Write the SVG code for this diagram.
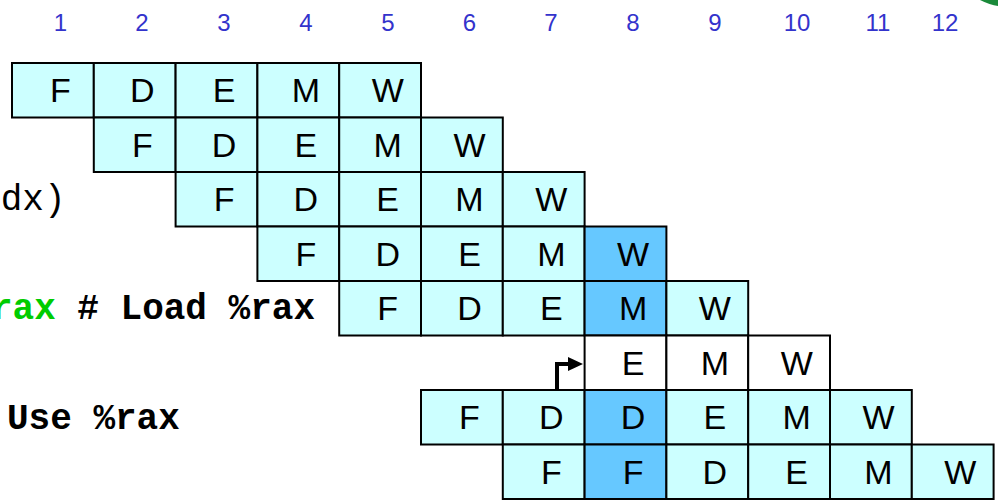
<svg xmlns="http://www.w3.org/2000/svg" width="998" height="504" viewBox="0 0 998 504">
<style>
.c{fill:#ccffff;stroke:#000;stroke-width:2}
.d{fill:#66c8ff;stroke:#000;stroke-width:2}
.w{fill:#ffffff;stroke:#000;stroke-width:2}
.t{font-family:"Liberation Sans",Arial,sans-serif;font-size:34px;fill:#000;text-anchor:middle}
.n{font-family:"Liberation Sans",Arial,sans-serif;font-size:24px;fill:#3333cc;text-anchor:middle}
.code{font-family:"Liberation Mono","Courier New",monospace;font-size:36px;fill:#000}
</style>
<path d="M980,0 Q990,5 998,6 L998,0 Z" fill="#1a8a3a"/>
<g id="cycles">
<text class="n" x="60.5" y="31">1</text>
<text class="n" x="142" y="31">2</text>
<text class="n" x="224" y="31">3</text>
<text class="n" x="306" y="31">4</text>
<text class="n" x="388" y="31">5</text>
<text class="n" x="469.5" y="31">6</text>
<text class="n" x="551" y="31">7</text>
<text class="n" x="633" y="31">8</text>
<text class="n" x="715" y="31">9</text>
<text class="n" x="797" y="31">10</text>
<text class="n" x="878" y="31">11</text>
<text class="n" x="945" y="31">12</text>
</g>
<g id="code">
<text class="code" x="65.5" y="210" text-anchor="end" font-size="32">rdx)</text>
<text class="code" x="315" y="319" text-anchor="end" font-weight="bold"><tspan fill="#00cc00">rax</tspan> # Load %rax</text>
<text class="code" x="7" y="429" font-weight="bold">Use %rax</text>
</g>
<g id="row1">
<rect class="c" x="12" y="63" width="81.8" height="54.5"/>
<rect class="c" x="93.8" y="63" width="81.8" height="54.5"/>
<rect class="c" x="175.6" y="63" width="81.8" height="54.5"/>
<rect class="c" x="257.4" y="63" width="81.8" height="54.5"/>
<rect class="c" x="339.2" y="63" width="81.8" height="54.5"/>
<text class="t" x="60.5" y="102">F</text>
<text class="t" x="142.3" y="102">D</text>
<text class="t" x="224.1" y="102">E</text>
<text class="t" x="305.9" y="102">M</text>
<text class="t" x="387.7" y="102">W</text>
</g>
<g id="row2">
<rect class="c" x="93.8" y="117.5" width="81.8" height="54.5"/>
<rect class="c" x="175.6" y="117.5" width="81.8" height="54.5"/>
<rect class="c" x="257.4" y="117.5" width="81.8" height="54.5"/>
<rect class="c" x="339.2" y="117.5" width="81.8" height="54.5"/>
<rect class="c" x="421" y="117.5" width="81.8" height="54.5"/>
<text class="t" x="142.3" y="156.5">F</text>
<text class="t" x="224.1" y="156.5">D</text>
<text class="t" x="305.9" y="156.5">E</text>
<text class="t" x="387.7" y="156.5">M</text>
<text class="t" x="469.5" y="156.5">W</text>
</g>
<g id="row3">
<rect class="c" x="175.6" y="172" width="81.8" height="54.5"/>
<rect class="c" x="257.4" y="172" width="81.8" height="54.5"/>
<rect class="c" x="339.2" y="172" width="81.8" height="54.5"/>
<rect class="c" x="421" y="172" width="81.8" height="54.5"/>
<rect class="c" x="502.8" y="172" width="81.8" height="54.5"/>
<text class="t" x="224.1" y="211">F</text>
<text class="t" x="305.9" y="211">D</text>
<text class="t" x="387.7" y="211">E</text>
<text class="t" x="469.5" y="211">M</text>
<text class="t" x="551.3" y="211">W</text>
</g>
<g id="row4">
<rect class="c" x="257.4" y="226.5" width="81.8" height="54.5"/>
<rect class="c" x="339.2" y="226.5" width="81.8" height="54.5"/>
<rect class="c" x="421" y="226.5" width="81.8" height="54.5"/>
<rect class="c" x="502.8" y="226.5" width="81.8" height="54.5"/>
<rect class="d" x="584.6" y="226.5" width="81.8" height="54.5"/>
<text class="t" x="305.9" y="265.5">F</text>
<text class="t" x="387.7" y="265.5">D</text>
<text class="t" x="469.5" y="265.5">E</text>
<text class="t" x="551.3" y="265.5">M</text>
<text class="t" x="633.1" y="265.5">W</text>
</g>
<g id="row5">
<rect class="c" x="339.2" y="281" width="81.8" height="54.5"/>
<rect class="c" x="421" y="281" width="81.8" height="54.5"/>
<rect class="c" x="502.8" y="281" width="81.8" height="54.5"/>
<rect class="d" x="584.6" y="281" width="81.8" height="54.5"/>
<rect class="c" x="666.4" y="281" width="81.8" height="54.5"/>
<text class="t" x="387.7" y="320">F</text>
<text class="t" x="469.5" y="320">D</text>
<text class="t" x="551.3" y="320">E</text>
<text class="t" x="633.1" y="320">M</text>
<text class="t" x="714.9" y="320">W</text>
</g>
<g id="row6">
<rect class="w" x="584.6" y="335.5" width="81.8" height="54.5"/>
<rect class="w" x="666.4" y="335.5" width="81.8" height="54.5"/>
<rect class="w" x="748.2" y="335.5" width="81.8" height="54.5"/>
<text class="t" x="633.1" y="374.5">E</text>
<text class="t" x="714.9" y="374.5">M</text>
<text class="t" x="796.7" y="374.5">W</text>
</g>
<g id="row7">
<rect class="c" x="421" y="390" width="81.8" height="54.5"/>
<rect class="c" x="502.8" y="390" width="81.8" height="54.5"/>
<rect class="d" x="584.6" y="390" width="81.8" height="54.5"/>
<rect class="c" x="666.4" y="390" width="81.8" height="54.5"/>
<rect class="c" x="748.2" y="390" width="81.8" height="54.5"/>
<rect class="c" x="830" y="390" width="81.8" height="54.5"/>
<text class="t" x="469.5" y="429">F</text>
<text class="t" x="551.3" y="429">D</text>
<text class="t" x="633.1" y="429">D</text>
<text class="t" x="714.9" y="429">E</text>
<text class="t" x="796.7" y="429">M</text>
<text class="t" x="878.5" y="429">W</text>
</g>
<g id="row8">
<rect class="c" x="502.8" y="444.5" width="81.8" height="54.5"/>
<rect class="d" x="584.6" y="444.5" width="81.8" height="54.5"/>
<rect class="c" x="666.4" y="444.5" width="81.8" height="54.5"/>
<rect class="c" x="748.2" y="444.5" width="81.8" height="54.5"/>
<rect class="c" x="830" y="444.5" width="81.8" height="54.5"/>
<rect class="c" x="911.8" y="444.5" width="81.8" height="54.5"/>
<text class="t" x="551.3" y="483.5">F</text>
<text class="t" x="633.1" y="483.5">F</text>
<text class="t" x="714.9" y="483.5">D</text>
<text class="t" x="796.7" y="483.5">E</text>
<text class="t" x="878.5" y="483.5">M</text>
<text class="t" x="960.3" y="483.5">W</text>
</g>
<g id="connectors">
<path d="M557,390 L557,364 L570,364" fill="none" stroke="#000" stroke-width="4"/>
<path d="M568,357 L583,364 L568,371 Z" fill="#000"/>
</g>
</svg>
